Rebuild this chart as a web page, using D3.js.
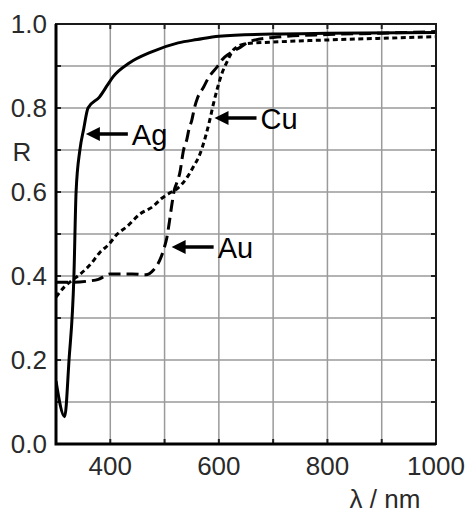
<!DOCTYPE html>
<html>
<head>
<meta charset="utf-8">
<script src="https://cdn.jsdelivr.net/npm/d3@7"></script>
<style>
  body { margin: 0; background: #fff; }
  svg { display: block; font-family: "Liberation Sans", Arial, sans-serif; }
  .tick-label { font-size: 26px; fill: #2a2a2a; }
  .note { font-size: 29px; fill: #000; }
</style>
</head>
<body>
<svg width="473" height="515"></svg>
<script>
// reflectance data
const agWl = [300, 316, 324, 333, 337, 344, 351, 359, 380, 395, 405, 435, 475, 525, 560, 600, 700, 800, 1000];
const agR  = [0.15, 0.065, 0.2, 0.4, 0.6, 0.7, 0.75, 0.8, 0.826, 0.855, 0.874, 0.907, 0.933, 0.955, 0.963, 0.971, 0.976, 0.978, 0.98];

const auWl = [300, 330, 360, 378, 400, 440, 465, 480, 492, 500, 504, 509, 514, 518, 522, 528, 535, 541, 545, 550, 555, 561, 572, 580, 598, 606, 620, 640, 656, 700, 800, 900, 1000];
const auR  = [0.385, 0.385, 0.388, 0.392, 0.405, 0.405, 0.403, 0.415, 0.44, 0.47, 0.49, 0.53, 0.575, 0.605, 0.62, 0.645, 0.7, 0.725, 0.75, 0.77, 0.8, 0.825, 0.85, 0.87, 0.9, 0.915, 0.93, 0.945, 0.958, 0.968, 0.975, 0.978, 0.982];

const cuWl = [300, 316, 330, 345, 365, 380, 397, 413, 430, 455, 478, 495, 510, 525, 540, 553, 565, 575, 583, 590, 598, 605, 615, 628, 650, 700, 800, 900, 1000];
const cuR  = [0.35, 0.375, 0.39, 0.405, 0.43, 0.455, 0.475, 0.5, 0.517, 0.548, 0.565, 0.585, 0.598, 0.61, 0.632, 0.66, 0.69, 0.73, 0.77, 0.81, 0.85, 0.88, 0.91, 0.94, 0.953, 0.957, 0.962, 0.966, 0.97];

const xTicks = [400, 600, 800, 1000];
const yTicks = [0.0, 0.2, 0.4, 0.6, 0.8, 1.0];
const xGrid = [400, 500, 600, 700, 800, 900];
const yGrid = [0.1, 0.2, 0.3, 0.4, 0.5, 0.6, 0.7, 0.8, 0.9];

// labels with arrows: text, wavelength and R at the arrow tip
const notes = [
  { label: "Ag", wl: 355, r: 0.738 },
  { label: "Cu", wl: 592, r: 0.776 },
  { label: "Au", wl: 513, r: 0.469 }
];

const svg = d3.select("svg");
const mLeft = 56, mRight = 436, mTop = 24, mBottom = 444;

const x = d3.scaleLinear().domain([300, 1000]).range([mLeft, mRight]);
const y = d3.scaleLinear().domain([0, 1]).range([mBottom, mTop]);

svg.append("defs").append("clipPath").attr("id", "plot")
  .append("rect")
  .attr("x", mLeft).attr("y", mTop)
  .attr("width", mRight - mLeft).attr("height", mBottom - mTop);

// grid
svg.append("g").selectAll("line").data(xGrid).join("line")
  .attr("x1", d => x(d)).attr("x2", d => x(d))
  .attr("y1", mTop).attr("y2", mBottom)
  .attr("stroke", "#9a9a9a").attr("stroke-width", 1.5);

svg.append("g").selectAll("line").data(yGrid).join("line")
  .attr("x1", mLeft).attr("x2", mRight)
  .attr("y1", d => y(d)).attr("y2", d => y(d))
  .attr("stroke", "#9a9a9a").attr("stroke-width", 1.5);

// small inward ticks on all sides
svg.append("g").selectAll("line").data(yGrid).join("line")
  .attr("x1", mRight - 5).attr("x2", mRight)
  .attr("y1", d => y(d)).attr("y2", d => y(d))
  .attr("stroke", "#222").attr("stroke-width", 2);
svg.append("g").selectAll("line").data(yGrid).join("line")
  .attr("x1", mLeft).attr("x2", mLeft + 5)
  .attr("y1", d => y(d)).attr("y2", d => y(d))
  .attr("stroke", "#222").attr("stroke-width", 2);
svg.append("g").selectAll("line").data(xGrid).join("line")
  .attr("x1", d => x(d)).attr("x2", d => x(d))
  .attr("y1", mTop).attr("y2", mTop + 5)
  .attr("stroke", "#222").attr("stroke-width", 2);
svg.append("g").selectAll("line").data(xGrid).join("line")
  .attr("x1", d => x(d)).attr("x2", d => x(d))
  .attr("y1", mBottom - 5).attr("y2", mBottom)
  .attr("stroke", "#222").attr("stroke-width", 2);

// curves
const line = d3.line()
  .x(d => x(d[0]))
  .y(d => y(d[1]))
  .curve(d3.curveMonotoneX);

const series = [
  { wl: agWl, r: agR, dash: null },
  { wl: auWl, r: auR, dash: "12,6" },
  { wl: cuWl, r: cuR, dash: "5,3.5" }
];

svg.append("g").attr("clip-path", "url(#plot)")
  .selectAll("path").data(series).join("path")
  .attr("d", s => line(d3.zip(s.wl, s.r)))
  .attr("fill", "none")
  .attr("stroke", "#000")
  .attr("stroke-width", 3)
  .attr("stroke-dasharray", s => s.dash);

// frame
svg.append("rect")
  .attr("x", mLeft).attr("y", mTop)
  .attr("width", mRight - mLeft).attr("height", mBottom - mTop)
  .attr("fill", "none").attr("stroke", "#1a1a1a").attr("stroke-width", 2);
svg.append("path")
  .attr("d", `M${mLeft},${mTop} V${mBottom} H${mRight}`)
  .attr("fill", "none").attr("stroke", "#000").attr("stroke-width", 3);

// tick labels
svg.append("g").selectAll("text").data(xTicks).join("text")
  .attr("class", "tick-label")
  .attr("x", d => x(d)).attr("y", 475)
  .attr("text-anchor", "middle")
  .text(d => d);

svg.append("g").selectAll("text").data(yTicks).join("text")
  .attr("class", "tick-label")
  .attr("x", 47).attr("y", d => y(d) + 9)
  .attr("text-anchor", "end")
  .text(d => d.toFixed(1));

svg.append("text").attr("class", "tick-label")
  .attr("x", 22).attr("y", 161).attr("text-anchor", "middle").text("R");

svg.append("text").attr("class", "tick-label")
  .attr("x", 385).attr("y", 508).attr("text-anchor", "middle").text("λ / nm");

// annotations: arrow pointing left at the curve, then the label
const g = svg.append("g").selectAll("g").data(notes).join("g")
  .attr("transform", d => `translate(${x(d.wl)},${y(d.r)})`);
g.append("line")
  .attr("x1", 10).attr("x2", 42)
  .attr("y1", 0).attr("y2", 0)
  .attr("stroke", "#000").attr("stroke-width", 3.5);
g.append("path")
  .attr("d", "M0,0 L14,-7 L14,7 Z")
  .attr("fill", "#000");
g.append("text").attr("class", "note")
  .attr("x", 46).attr("y", 11)
  .text(d => d.label);
</script>
</body>
</html>
